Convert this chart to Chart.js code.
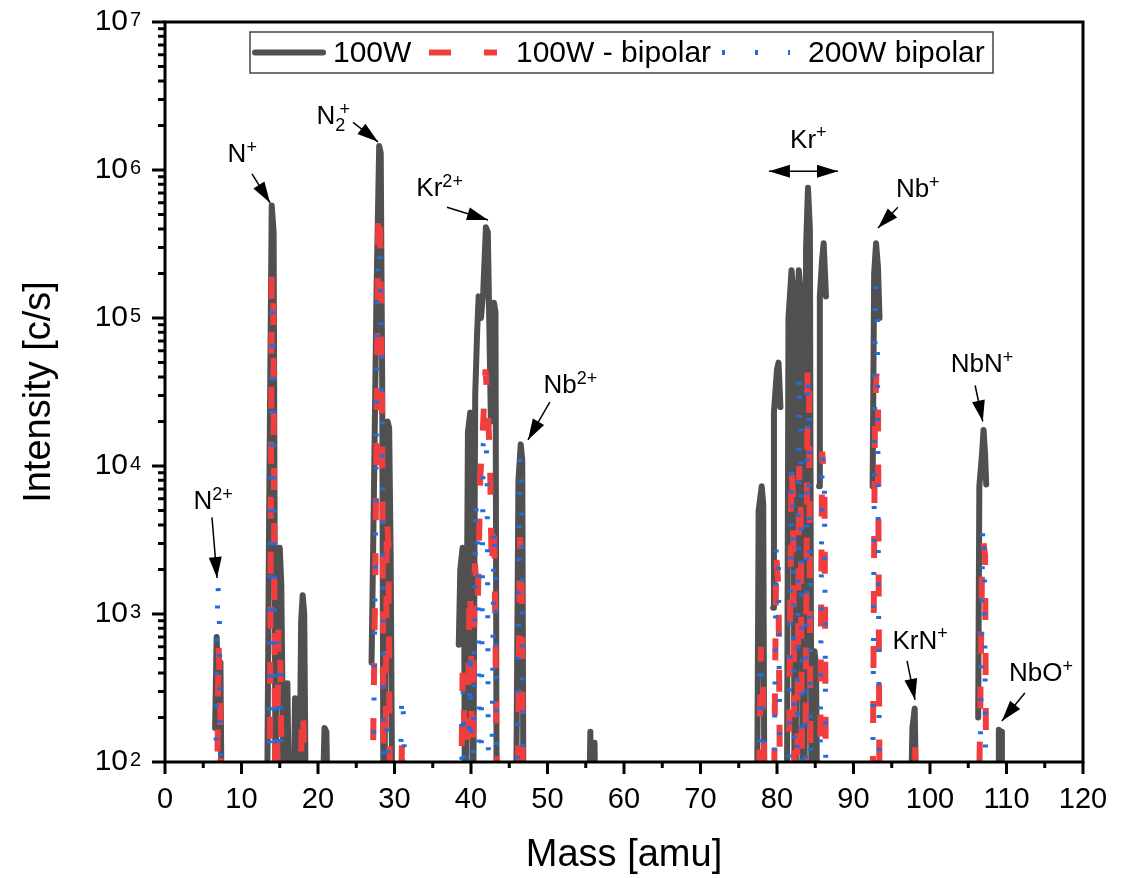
<!DOCTYPE html>
<html>
<head>
<meta charset="utf-8">
<script src="https://cdn.jsdelivr.net/npm/chart.js@4.4.1/dist/chart.umd.min.js"></script>
<style>
    html, body { margin: 0; padding: 0; background: #fff; }
    #wrap { width: 1137px; height: 878px; position: relative; }
</style>
</head>
<body>
<div id="wrap"><canvas id="chartSpectrum"></canvas></div>
<script>
// Espectro 100W (gris); null = hueco en la curva
const massGrey = [
    6.55, 6.75, 7.0, 7.25, 7.4,
    13.35, 13.6, 13.95, 14.2, 14.45,
    14.55, 14.8, 15.0, 15.2, 15.35, 15.5,
    15.8, 16.0, 16.2,
    16.8, 17.0, 17.2,
    17.55, 17.8, 18.0, 18.2, 18.4,
    20.6, 20.85, 21.1, 21.25,
    26.9,
    27.0, 27.3, 27.65, 28.0, 28.2, 28.4, 28.55,
    28.7, 28.9, 29.1, 29.3, 29.5, 29.7,
    38.3,
    38.4, 38.6, 38.9, 39.1, 39.2,
    39.3, 39.6, 39.9, 40.1, 40.2,
    40.3, 40.55, 40.8, 41.0, 41.3, 41.6, 41.95, 42.2, 42.45, 42.6,
    42.8, 43.0, 43.2, 43.35,
    45.9, 46.2, 46.5, 46.7, 46.85,
    55.45, 55.6, 55.75, 56.05, 56.15, 56.25,
    77.4, 77.6, 78.0, 78.2, 78.35,
    79.4,
    79.5, 79.6, 80.0, 80.2, 80.45,
    80.6,
    81.3, 81.5, 81.9, 82.1, 82.3, 82.45, 82.6, 82.85, 83.1, 83.35, 83.6, 83.8, 84.05, 84.3, 84.5,
    84.7, 84.9, 85.1, 85.25,
    85.4,
    85.5, 85.6, 85.9, 86.1, 86.4,
    86.6,
    92.5, 92.7, 92.95, 93.2, 93.4,
    93.6,
    97.5, 97.7, 98.0, 98.2,
    106.2,
    106.3, 106.45, 106.8, 107.0, 107.2, 107.35,
    107.5,
    108.9, 109.0, 109.3, 109.4
];
const intensityGrey = [
    170, 700, 260, 470, 50,
    50, 4000, 575000, 380000, 50,
    235, 2200, 2800, 1600, 300, 50,
    50, 340, 50,
    50, 270, 50,
    50, 900, 1340, 1000, 50,
    50, 170, 160, 50,
    null,
    470, 6000, 150000, 1450000, 1300000, 30000, 50,
    50, 15000, 20000, 18000, 2500, 50,
    null,
    620, 2000, 2800, 1500, 50,
    50, 17000, 23000, 5000, 50,
    50, 30000, 80000, 140000, 100000, 150000, 410000, 380000, 60000, 20000,
    80000, 127000, 110000, 50,
    50, 8000, 14000, 11000, 50,
    50, 160, 50, 50, 135, 50,
    50, 5000, 7300, 5500, 50,
    null,
    1100, 23000, 45000, 50000, 25000,
    null,
    50, 100000, 210000, 150000, 50, 50, 100000, 210000, 150000, 50, 50, 300000, 760000, 400000, 50,
    50, 560, 450, 50,
    null,
    7300, 140000, 250000, 320000, 140000,
    null,
    7300, 200000, 320000, 220000, 100000,
    null,
    50, 170, 230, 50,
    null,
    200, 7300, 12000, 17500, 12000, 7500,
    null,
    50, 165, 160, 50
];

// Espectro 100W - bipolar (rojo)
const massRed = [
    6.8, 7.0, 7.2, 7.35,
    13.7, 13.95, 14.15, 14.4,
    14.6, 14.85, 15.05, 15.3,
    17.7, 17.9, 18.1, 18.3,
    27.1, 27.5, 27.9, 28.1, 28.4, 28.6,
    28.8, 29.0, 29.2, 29.4,
    30.8, 31.0, 31.2,
    38.7, 38.9, 39.1, 39.3,
    39.5, 39.8, 40.0, 40.15,
    40.2, 40.5, 40.9, 41.2, 41.6, 41.9, 42.2, 42.5, 42.7, 43.0, 43.2, 43.4,
    46.1, 46.4, 46.6, 46.8,
    77.6, 77.9, 78.2, 78.4,
    79.6, 79.9, 80.2, 80.4,
    81.5, 81.9, 82.1, 82.3,
    82.6, 82.9, 83.1, 83.3,
    83.7, 84.0, 84.2, 84.4,
    85.6, 85.9, 86.2, 86.4,
    92.5, 92.8, 93.0, 93.2, 93.4,
    97.9, 98.05, 98.2,
    106.4, 106.8, 107.0, 107.2, 107.35
];
const intensityRed = [
    50, 620, 300, 50,
    50, 200000, 150000, 50,
    50, 800, 600, 50,
    50, 230, 180, 50,
    50, 2000, 550000, 500000, 20000, 50,
    50, 4500, 3000, 50,
    50, 150, 50,
    50, 400, 200, 50,
    50, 1500, 1000, 50,
    50, 2200, 1200, 8000, 20000, 45000, 25000, 10000, 2000, 4400, 700, 50,
    50, 3300, 2000, 50,
    50, 600, 300, 50,
    50, 2500, 1500, 50,
    50, 10000, 6000, 50,
    50, 10000, 5000, 50,
    50, 48000, 30000, 50,
    50, 12500, 8000, 50,
    50, 20000, 42000, 30000, 50,
    50, 130, 50,
    50, 2000, 3000, 2500, 50
];

// Espectro 200W bipolar (azul)
const massBlue = [
    6.6, 6.9, 7.1, 7.3,
    13.6, 13.95, 14.15, 14.4,
    14.6, 14.9, 15.1, 15.3,
    15.8, 16.0, 16.2,
    27.2, 27.8, 28.1, 28.4, 28.6,
    28.8, 29.05, 29.3,
    30.7, 30.95, 31.2, 31.4,
    38.7, 38.95, 39.2,
    39.6, 39.9, 40.1,
    40.3, 40.6, 40.9, 41.1,
    41.3, 41.6, 41.9, 42.1, 42.3,
    42.7, 43.0, 43.2, 43.4,
    46.0, 46.4, 46.6, 46.8,
    77.6, 77.9, 78.2, 78.4,
    79.6, 79.9, 80.2, 80.4,
    81.5, 81.9, 82.1, 82.3,
    82.6, 82.9, 83.1, 83.3,
    83.7, 84.0, 84.2, 84.4,
    85.6, 85.9, 86.2, 86.4,
    92.5, 92.85, 93.1, 93.4,
    106.5, 106.9, 107.1, 107.3
];
const intensityBlue = [
    50, 1650, 1000, 50,
    50, 140000, 100000, 50,
    50, 650, 400, 50,
    50, 110, 50,
    50, 200000, 300000, 20000, 50,
    50, 180, 50,
    50, 290, 200, 50,
    50, 300, 50,
    50, 600, 50,
    50, 6000, 3000, 50,
    50, 14000, 17000, 10000, 50,
    50, 4000, 2000, 50,
    50, 12000, 8000, 50,
    50, 500, 200, 50,
    50, 3000, 2000, 50,
    50, 10000, 6000, 50,
    50, 42000, 20000, 50,
    50, 42000, 25000, 50,
    50, 12500, 8000, 50,
    50, 175000, 120000, 50,
    50, 4000, 2500, 50
];

const seriesLabels = ['100W', '100W - bipolar', '200W bipolar'];

// Etiquetas de los picos (^{} = superíndice, _{} = subíndice)
const peakLabels = ['N^{2+}', 'N^{+}', 'N_{2}^{+}', 'Kr^{2+}', 'Nb^{2+}', 'Kr^{+}', 'Nb^{+}', 'NbN^{+}', 'KrN^{+}', 'NbO^{+}'];
const peakLabelMass = [6.3, 10.1, 22.1, 35.9, 53.0, 84.1, 98.4, 106.8, 98.7, 114.5];
const peakLabelInt = [5900, 1.3e6, 2.35e6, 7.7e5, 3.6e4, 1.64e6, 7.55e5, 4.97e4, 676, 406];
// Flechas: desde (mass, int) hasta (mass, int); doble = punta en ambos lados
const arrowFromMass = [6.14, 11.37, 24.58, 36.86, 50.3, 78.95, 95.8, 105.9, 97.0, 112.4];
const arrowFromInt = [4500, 9.4e5, 2.1e6, 5.6e5, 2.7e4, 9.8e5, 5.6e5, 3.5e4, 482, 293];
const arrowToMass = [6.8, 13.73, 27.84, 42.22, 47.45, 87.97, 93.2, 106.9, 98.04, 109.4];
const arrowToInt = [1750, 6.0e5, 1.55e6, 4.6e5, 1.5e4, 9.8e5, 4.05e5, 2.0e4, 263, 189];
const arrowDouble = [false, false, false, false, false, true, false, false, false, false];

const FONT = "'Liberation Sans', Arial, Helvetica, sans-serif";

const chartColors = {
    grey: 'rgb(80, 80, 80)',
    red: 'rgb(240, 62, 62)',
    blue: 'rgb(30, 110, 222)',
    axis: '#000'
};

const toPoints = (masses, values) => masses.map((m, i) => ({ x: m, y: values[i] }));

// Parte el texto en trozos normal / sup / sub
const parseRich = (text) => {
    const parts = [];
    const re = /([\^_])\{([^}]*)\}|([^\^_]+)/g;
    let match;
    while ((match = re.exec(text)) !== null) {
        if (match[3]) parts.push({ t: match[3], kind: 'n' });
        else parts.push({ t: match[2], kind: match[1] === '^' ? 'sup' : 'sub' });
    }
    return parts;
};

const drawRichText = (ctx, text, cx, cy, size) => {
    const small = Math.round(size * 0.68);
    const parts = parseRich(text);
    // medir ancho total (sup después de sub se apila, algo desplazado)
    let width = 0;
    parts.forEach((p, i) => {
        ctx.font = `${p.kind === 'n' ? size : small}px ${FONT}`;
        const w = ctx.measureText(p.t).width;
        if (p.kind === 'sup' && i > 0 && parts[i - 1].kind === 'sub') width += w * 0.6;
        else width += w;
    });
    const baseline = cy + size * 0.36;
    let x = cx - width / 2, subStart = null;
    ctx.textBaseline = 'alphabetic';
    ctx.textAlign = 'left';
    ctx.fillStyle = '#000';
    parts.forEach((p) => {
        ctx.font = `${p.kind === 'n' ? size : small}px ${FONT}`;
        const w = ctx.measureText(p.t).width;
        if (p.kind === 'n') {
            ctx.fillText(p.t, x, baseline);
            x += w; subStart = null;
        } else if (p.kind === 'sub') {
            ctx.fillText(p.t, x, baseline + size * 0.24);
            subStart = x; x += w;
        } else {
            const sx = subStart !== null ? subStart + w * 0.4 : x;
            ctx.fillText(p.t, sx, baseline - size * 0.36);
            x = sx + w;
            subStart = null;
        }
    });
};

const drawArrowHead = (ctx, x1, y1, x2, y2, len, half) => {
    const ang = Math.atan2(y2 - y1, x2 - x1);
    ctx.beginPath();
    ctx.moveTo(x2, y2);
    ctx.lineTo(x2 - len * Math.cos(ang) + half * Math.sin(ang), y2 - len * Math.sin(ang) - half * Math.cos(ang));
    ctx.lineTo(x2 - len * Math.cos(ang) - half * Math.sin(ang), y2 - len * Math.sin(ang) + half * Math.cos(ang));
    ctx.closePath();
    ctx.fill();
};

// Plugin: marco, marcas de ejes, exponentes, anotaciones y leyenda
const spectrumDecor = {
    id: 'spectrumDecor',
    afterDatasetsDraw(chart) {
        const { ctx, scales: { x, y } } = chart;
        ctx.save();

        // flechas y etiquetas
        ctx.strokeStyle = '#000';
        ctx.fillStyle = '#000';
        ctx.lineWidth = 1.5;
        peakLabels.forEach((lbl, i) => {
            const x1 = x.getPixelForValue(arrowFromMass[i]);
            const y1 = y.getPixelForValue(arrowFromInt[i]);
            const x2 = x.getPixelForValue(arrowToMass[i]);
            const y2 = y.getPixelForValue(arrowToInt[i]);
            ctx.beginPath();
            ctx.moveTo(x1, y1);
            ctx.lineTo(x2, y2);
            ctx.stroke();
            drawArrowHead(ctx, x1, y1, x2, y2, 21, 6.5);
            if (arrowDouble[i]) drawArrowHead(ctx, x2, y2, x1, y1, 21, 6.5);
            drawRichText(ctx, lbl, x.getPixelForValue(peakLabelMass[i]), y.getPixelForValue(peakLabelInt[i]), 26);
        });

        // leyenda
        const box = { left: 250, top: 32, right: 993, bottom: 73 };
        const cy = (box.top + box.bottom) / 2;
        ctx.fillStyle = '#fff';
        ctx.fillRect(box.left, box.top, box.right - box.left, box.bottom - box.top);
        ctx.strokeStyle = '#444';
        ctx.lineWidth = 1.5;
        ctx.strokeRect(box.left, box.top, box.right - box.left, box.bottom - box.top);
        const sampleX = [255, 429, 722];
        const textX = [333, 516, 808];
        chart.data.datasets.forEach((ds, i) => {
            ctx.beginPath();
            ctx.setLineDash(ds.borderDash || []);
            ctx.lineCap = ds.borderCapStyle || 'butt';
            ctx.strokeStyle = ds.borderColor;
            ctx.lineWidth = ds.borderWidth;
            ctx.moveTo(sampleX[i], cy);
            ctx.lineTo(sampleX[i] + 68, cy);
            ctx.stroke();
            ctx.setLineDash([]);
            ctx.fillStyle = '#000';
            ctx.font = `30px ${FONT}`;
            ctx.textBaseline = 'middle';
            ctx.textAlign = 'left';
            ctx.fillText(ds.label, textX[i], cy + 1);
        });
        ctx.restore();
    },
    afterDraw(chart) {
        const { ctx, chartArea: { left, right, top, bottom }, scales: { x, y } } = chart;
        ctx.save();
        ctx.strokeStyle = chartColors.axis;
        ctx.lineWidth = 3;
        ctx.lineCap = 'butt';
        ctx.setLineDash([]);
        ctx.strokeRect(left, top, right - left, bottom - top);

        ctx.beginPath();
        for (let m = x.min; m <= x.max; m += 5) {
            const px = x.getPixelForValue(m);
            const len = m % 10 === 0 ? 12 : 6;
            ctx.moveTo(px, bottom);
            ctx.lineTo(px, bottom + len);
        }
        for (let e = 2; e <= 7; e++) {
            for (let k = 1; k <= 9; k++) {
                const v = k * Math.pow(10, e);
                if (v > y.max) break;
                const py = y.getPixelForValue(v);
                const len = k === 1 ? 13 : 7;
                ctx.moveTo(left, py);
                ctx.lineTo(left - len, py);
            }
        }
        ctx.stroke();

        // exponentes de las etiquetas del eje y (10^n)
        ctx.fillStyle = '#000';
        ctx.font = `20px ${FONT}`;
        ctx.textAlign = 'left';
        ctx.textBaseline = 'alphabetic';
        y.ticks.forEach(t => {
            const py = y.getPixelForValue(t.value);
            ctx.fillText(String(Math.round(Math.log10(t.value))), left - 35, py + 4);
        });
        ctx.restore();
    }
};

const createChart = (canvasId) => {
    const ctx = document.getElementById(canvasId)?.getContext('2d');
    if (!ctx) return null;
    return new Chart(ctx, {
        type: 'line',
        data: {
            datasets: [
                {
                    label: seriesLabels[0],
                    data: toPoints(massGrey, intensityGrey),
                    borderColor: chartColors.grey,
                    borderWidth: 6,
                    borderCapStyle: 'round',
                    borderJoinStyle: 'round',
                    order: 3
                },
                {
                    label: seriesLabels[1],
                    data: toPoints(massRed, intensityRed),
                    borderColor: chartColors.red,
                    borderWidth: 6,
                    borderDash: [22, 33],
                    borderCapStyle: 'butt',
                    order: 2
                },
                {
                    label: seriesLabels[2],
                    data: toPoints(massBlue, intensityBlue),
                    borderColor: chartColors.blue,
                    borderWidth: 5,
                    borderDash: [3, 30],
                    borderCapStyle: 'butt',
                    order: 1
                }
            ].map(ds => ({ ...ds, pointRadius: 0, tension: 0, fill: false, spanGaps: false, clip: 0 }))
        },
        options: {
            responsive: true,
            maintainAspectRatio: false,
            animation: false,
            devicePixelRatio: 1,
            layout: { padding: { left: 0, top: 22, right: 54, bottom: 0 } },
            plugins: {
                legend: { display: false },
                tooltip: { enabled: false }
            },
            scales: {
                x: {
                    type: 'linear',
                    min: 0,
                    max: 120,
                    grid: { display: false, drawTicks: false },
                    border: { display: false },
                    ticks: {
                        stepSize: 10,
                        autoSkip: false,
                        maxRotation: 0,
                        padding: 21,
                        color: '#000',
                        font: { family: FONT, size: 29 }
                    },
                    title: {
                        display: true,
                        text: 'Mass [amu]',
                        color: '#000',
                        font: { family: FONT, size: 38 },
                        padding: { top: 0, bottom: 0 }
                    },
                    afterFit: (scale) => {
                        scale.height = 116;
                        scale.paddingLeft = 0;
                        scale.paddingRight = 0;
                    }
                },
                y: {
                    type: 'logarithmic',
                    min: 100,
                    max: 1e7,
                    grid: { display: false, drawTicks: false },
                    border: { display: false },
                    afterBuildTicks: (scale) => {
                        scale.ticks = [2, 3, 4, 5, 6, 7].map(e => ({ value: Math.pow(10, e), major: true }));
                    },
                    ticks: {
                        autoSkip: false,
                        padding: 37,
                        color: '#000',
                        font: { family: FONT, size: 30 },
                        callback: () => '10'
                    },
                    title: {
                        display: true,
                        text: 'Intensity [c/s]',
                        color: '#000',
                        font: { family: FONT, size: 38 },
                        padding: { top: 17, bottom: 0 }
                    },
                    afterFit: (scale) => {
                        scale.width = 165;
                        scale.paddingTop = 0;
                        scale.paddingBottom = 0;
                    }
                }
            }
        },
        plugins: [spectrumDecor]
    });
};

document.addEventListener('DOMContentLoaded', () => createChart('chartSpectrum'));
</script>
</body>
</html>
